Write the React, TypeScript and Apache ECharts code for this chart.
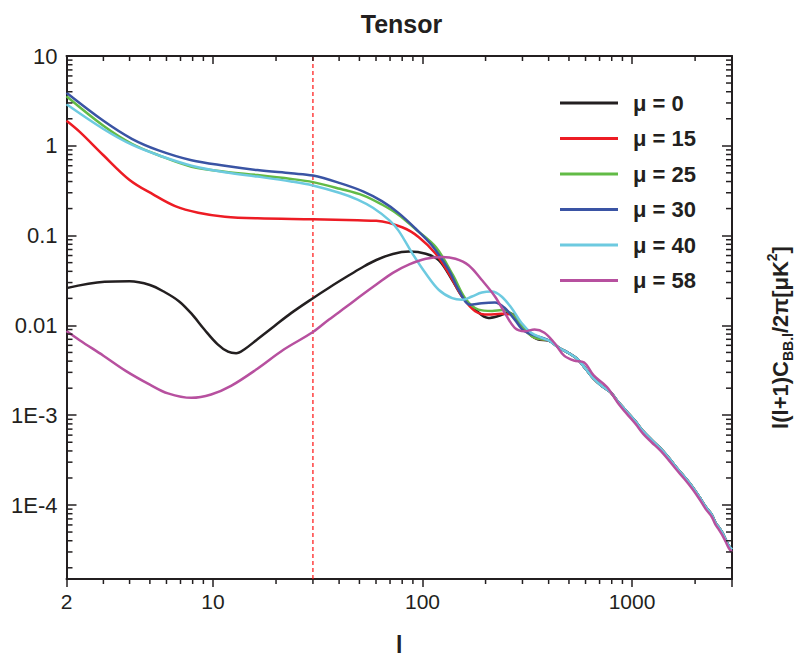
import React, { useEffect, useRef } from 'react';
import * as echarts from 'echarts';

const FONT = '"Liberation Sans", Arial, Helvetica, sans-serif';
const INK = '#231f20';
const DASH_RED = '#ff1010';

const seriesNames = ['μ = 0', 'μ = 15', 'μ = 25', 'μ = 30', 'μ = 40', 'μ = 58'];
const seriesColors = ['#231f20', '#ed1c24', '#62bb46', '#3a54a4', '#6dcae0', '#b7509f'];

const xMin = 2;
const xMax = 3000;
const yMin = 1.5e-5;
const yMax = 10;
const markerL = 30;

const xMajorLabels = [2, 10, 100, 1000];
const xMinorTicks = [3, 4, 5, 6, 7, 8, 9, 20, 30, 40, 50, 60, 70, 80, 90, 200, 300, 400, 500, 600, 700, 800, 900, 2000];
const yDecades = [1e-5, 1e-4, 1e-3, 1e-2, 1e-1, 1];
const yMinorMultipliers = [2, 3, 4, 5, 6, 7, 8, 9];

// shared high-l tail (l, value)
const tailHighL: number[][] = [
  [400, 0.0068], [450, 0.0056], [500, 0.0049], [550, 0.0042], [600, 0.0033], [656, 0.00255],
  [720, 0.0021], [787, 0.00182], [860, 0.0014], [943, 0.0011], [1040, 0.00085], [1131, 6.6e-4],
  [1240, 5.3e-4], [1356, 4.35e-4], [1490, 3.4e-4], [1624, 2.63e-4], [1780, 2.05e-4], [1946, 1.58e-4],
  [2100, 1.22e-4], [2249, 9.5e-5], [2400, 7.8e-5], [2507, 6.3e-5], [2600, 5.6e-5], [2700, 4.9e-5],
  [2800, 4.1e-5], [2900, 3.5e-5], [3000, 3.2e-5],
];

const mu0: number[][] = [
  [2, 0.026], [3.04, 0.0306], [4, 0.031], [5, 0.0282], [5.9, 0.0234], [6.9, 0.0185], [7.9, 0.0135],
  [9.1, 0.009], [10.5, 0.0062], [11.8, 0.0051], [12.9, 0.0049], [14.1, 0.0054], [16.3, 0.007],
  [19.6, 0.0098], [23.6, 0.0137], [30, 0.0201], [35.8, 0.0263], [43.6, 0.035], [51, 0.0436],
  [60.2, 0.0535], [72.2, 0.0625], [86.5, 0.0664], [103.7, 0.0627], [119.8, 0.053], [138.6, 0.032],
  [154.5, 0.021], [178.4, 0.015], [206.2, 0.0121], [229.8, 0.0127], [256.4, 0.0138], [275.6, 0.0127],
  [307, 0.009], [355, 0.007],
];

const mu15: number[][] = [
  [2, 1.9], [2.32, 1.42], [3, 0.785], [4, 0.417], [5.2, 0.286], [6.6, 0.213], [8.5, 0.18],
  [11.4, 0.1625], [16.3, 0.1556], [30, 0.1517], [49, 0.148], [60.2, 0.146], [80.5, 0.123],
  [96.4, 0.0955], [115.6, 0.0627], [133.6, 0.0378], [154.5, 0.021], [178.4, 0.0144], [206.2, 0.0132],
  [238.4, 0.0135], [266, 0.0132], [296.4, 0.0098], [342.4, 0.0073],
];

const mu25: number[][] = [
  [2, 3.57], [3, 1.675], [4.1, 1.054], [5.5, 0.785], [7.9, 0.585], [11.4, 0.515], [16.3, 0.473],
  [23.6, 0.428], [30, 0.394], [40.4, 0.332], [52, 0.281], [64, 0.222], [77, 0.17], [92.6, 0.118],
  [116, 0.074], [140, 0.036], [160, 0.02], [185, 0.015], [215, 0.0145], [240, 0.0148], [265, 0.0135],
  [300, 0.0095], [342, 0.0073],
];

const mu30: number[][] = [
  [2, 3.9], [3, 1.9], [4.1, 1.197], [5.5, 0.89], [7.9, 0.691], [11.4, 0.6], [16.3, 0.537],
  [23.6, 0.494], [30, 0.466], [40.4, 0.384], [52, 0.311], [64, 0.242], [77, 0.178], [92.6, 0.12],
  [111, 0.0775], [133.6, 0.0412], [148.8, 0.0248], [169, 0.017], [191.9, 0.0177], [221.7, 0.018],
  [247, 0.0156], [275.6, 0.0116], [307, 0.0086],
];

const mu40: number[][] = [
  [2, 2.9], [3, 1.54], [4.1, 1.028], [5.5, 0.785], [7.9, 0.6], [11.4, 0.507], [16.3, 0.454],
  [23.6, 0.401], [30, 0.362], [40.4, 0.298], [49, 0.252], [58, 0.204], [70, 0.146], [77, 0.113],
  [89.7, 0.0627], [103.7, 0.0378], [119.8, 0.0248], [138.6, 0.0201], [154.5, 0.0193], [172.2, 0.021],
  [191.9, 0.0232], [214, 0.0238], [238.4, 0.021], [266, 0.0156], [296.4, 0.0107], [330, 0.0083],
  [368, 0.0073],
];

const mu58: number[][] = [
  [2, 0.00866], [2.32, 0.0068], [3, 0.0046], [3.85, 0.0031], [5, 0.00219], [6.1, 0.00175],
  [7.9, 0.00156], [9.8, 0.0017], [12.2, 0.00212], [16.3, 0.00329], [21.7, 0.00535], [30, 0.00843],
  [35.8, 0.01164], [43.6, 0.0163], [51, 0.0215], [60.2, 0.0285], [72.2, 0.0385], [86.5, 0.0478],
  [103.7, 0.0552], [124.3, 0.0577], [143.6, 0.0552], [165.9, 0.0468], [191.9, 0.032], [221.7, 0.021],
  [247, 0.0138], [275.6, 0.0094], [307, 0.0086], [342.4, 0.009], [381.8, 0.0083], [425.6, 0.0064],
  [474, 0.0046], [528, 0.00406], [589, 0.00388], [656, 0.00277], [759, 0.00206], [860, 0.00135],
  [943, 0.00104], [1040, 0.0008], [1131, 6.2e-4], [1240, 5.0e-4], [1356, 4.1e-4], [1490, 3.2e-4],
  [1624, 2.5e-4], [1780, 1.95e-4], [1946, 1.5e-4], [2100, 1.16e-4], [2249, 9.0e-5], [2400, 7.4e-5],
  [2507, 6.0e-5], [2600, 5.3e-5], [2700, 4.6e-5], [2800, 3.9e-5], [2900, 3.3e-5], [3000, 3.0e-5],
];

const curves = [
  mu0.concat(tailHighL),
  mu15.concat(tailHighL),
  mu25.concat(tailHighL),
  mu30.concat(tailHighL),
  mu40.concat(tailHighL),
  mu58,
];

function xLabel(v: number): string {
  for (const m of xMajorLabels) {
    if (Math.abs(v - m) / m < 1e-6) return String(m);
  }
  return '';
}

function yLabel(v: number): string {
  const e = Math.log10(v);
  const r = Math.round(e);
  if (Math.abs(e - r) > 1e-6) return '';
  if (r >= 0) return String(Math.pow(10, r));
  if (r >= -2) return r === -1 ? '0.1' : '0.01';
  return '1E' + r;
}

function tickSeries(data: number[][], dx: number, dy: number) {
  return {
    type: 'custom',
    xAxisIndex: 0,
    yAxisIndex: 0,
    silent: true,
    clip: false,
    z: 5,
    data,
    renderItem: (params: any, api: any) => {
      const p = api.coord([api.value(0), api.value(1)]);
      return {
        type: 'line',
        shape: { x1: p[0], y1: p[1], x2: p[0] + dx, y2: p[1] + dy },
        style: { stroke: INK, lineWidth: 1.5 },
      };
    },
  };
}

export default function App() {
  const ref = useRef<HTMLDivElement>(null);

  useEffect(() => {
    if (!ref.current) return;
    const chart = echarts.init(ref.current, undefined, { renderer: 'svg' });

    const yMinor: number[] = [];
    yDecades.forEach((d) => yMinorMultipliers.forEach((m) => {
      const v = d * m;
      if (v > yMin && v < yMax) yMinor.push(v);
    }));

    const axisLine = { show: true, lineStyle: { color: INK, width: 2 } };

    const lineSeries = curves.map((c, i) => ({
      name: seriesNames[i],
      type: 'line',
      data: c,
      symbol: 'none',
      showSymbol: false,
      smooth: 0.35,
      z: 3,
      lineStyle: { color: seriesColors[i], width: 2.5 },
      itemStyle: { color: seriesColors[i] },
    }));

    // vertical dashed marker at l = 30, drawn through the axes' scales
    const markerSeries = {
      name: 'marker',
      type: 'line',
      data: [[markerL, yMin], [markerL, yMax]],
      symbol: 'none',
      showSymbol: false,
      silent: true,
      z: 2,
      lineStyle: { color: DASH_RED, width: 1.2, type: [4, 3] },
      itemStyle: { color: DASH_RED },
    };

    chart.setOption({
      animation: false,
      backgroundColor: '#ffffff',
      textStyle: { fontFamily: FONT, color: INK },
      title: {
        text: 'Tensor',
        left: 'center',
        top: 6,
        textStyle: { fontFamily: FONT, fontSize: 25, fontWeight: 'bold', color: INK },
      },
      legend: {
        orient: 'vertical',
        left: 555,
        top: 87,
        icon: 'rect',
        itemWidth: 58,
        itemHeight: 3,
        itemGap: 13.5,
        data: seriesNames,
        textStyle: {
          fontFamily: FONT,
          fontSize: 22,
          fontWeight: 'bold',
          color: INK,
          lineHeight: 21,
          padding: [0, 0, 0, 10],
        },
      },
      grid: { left: 66.5, right: 63.4, top: 56, bottom: 75, containLabel: false },
      xAxis: [
        {
          type: 'log',
          logBase: 10,
          min: xMin,
          max: xMax,
          position: 'bottom',
          axisLine,
          axisTick: { show: true, inside: false, length: 8, lineStyle: { color: INK, width: 1.5 } },
          axisLabel: { show: true, formatter: xLabel, fontFamily: FONT, fontSize: 21, color: INK, margin: 12 },
          splitLine: { show: false },
          name: 'l',
          nameLocation: 'middle',
          nameGap: 54,
          nameTextStyle: { fontFamily: FONT, fontSize: 23, fontWeight: 'bold', color: INK },
        },
        {
          type: 'log',
          logBase: 10,
          min: xMin,
          max: xMax,
          position: 'top',
          axisLine,
          axisTick: { show: true, inside: true, length: 8, lineStyle: { color: INK, width: 1.5 } },
          axisLabel: { show: false },
          splitLine: { show: false },
        },
      ],
      yAxis: [
        {
          type: 'log',
          logBase: 10,
          min: yMin,
          max: yMax,
          position: 'left',
          axisLine,
          axisTick: { show: true, inside: true, length: 10, lineStyle: { color: INK, width: 1.5 } },
          axisLabel: { show: true, formatter: yLabel, fontFamily: FONT, fontSize: 22, color: INK, margin: 9 },
          splitLine: { show: false },
        },
        {
          type: 'log',
          logBase: 10,
          min: yMin,
          max: yMax,
          position: 'right',
          axisLine,
          axisTick: { show: true, inside: true, length: 10, lineStyle: { color: INK, width: 1.5 } },
          axisLabel: { show: false },
          splitLine: { show: false },
          name: '{n|l(l+1)C}{s|BB.l}{n|/2π[μK}{p|2}{n|]}',
          nameLocation: 'middle',
          nameRotate: 90,
          nameGap: 33,
          nameTextStyle: {
            fontFamily: FONT,
            fontWeight: 'bold',
            color: INK,
            padding: [0, 40, 0, 0],
            rich: {
              n: { fontFamily: FONT, fontSize: 22, fontWeight: 'bold', color: INK, lineHeight: 30 },
              s: { fontFamily: FONT, fontSize: 14, fontWeight: 'bold', color: INK, lineHeight: 14, verticalAlign: 'bottom' },
              p: { fontFamily: FONT, fontSize: 14, fontWeight: 'bold', color: INK, lineHeight: 14, verticalAlign: 'top' },
            },
          },
        },
      ],
      series: [
        markerSeries,
        ...lineSeries,
        tickSeries(xMinorTicks.map((v) => [v, yMin]), 0, 5),
        tickSeries(xMinorTicks.map((v) => [v, yMax]), 0, 5),
        tickSeries(yMinor.map((v) => [xMin, v]), 6, 0),
        tickSeries(yMinor.map((v) => [xMax, v]), -6, 0),
      ],
    });

    return () => chart.dispose();
  }, []);

  return (
    <div
      ref={ref}
      style={{ position: 'fixed', left: 0, top: 0, width: 803, height: 661, background: '#fff' }}
    />
  );
}
